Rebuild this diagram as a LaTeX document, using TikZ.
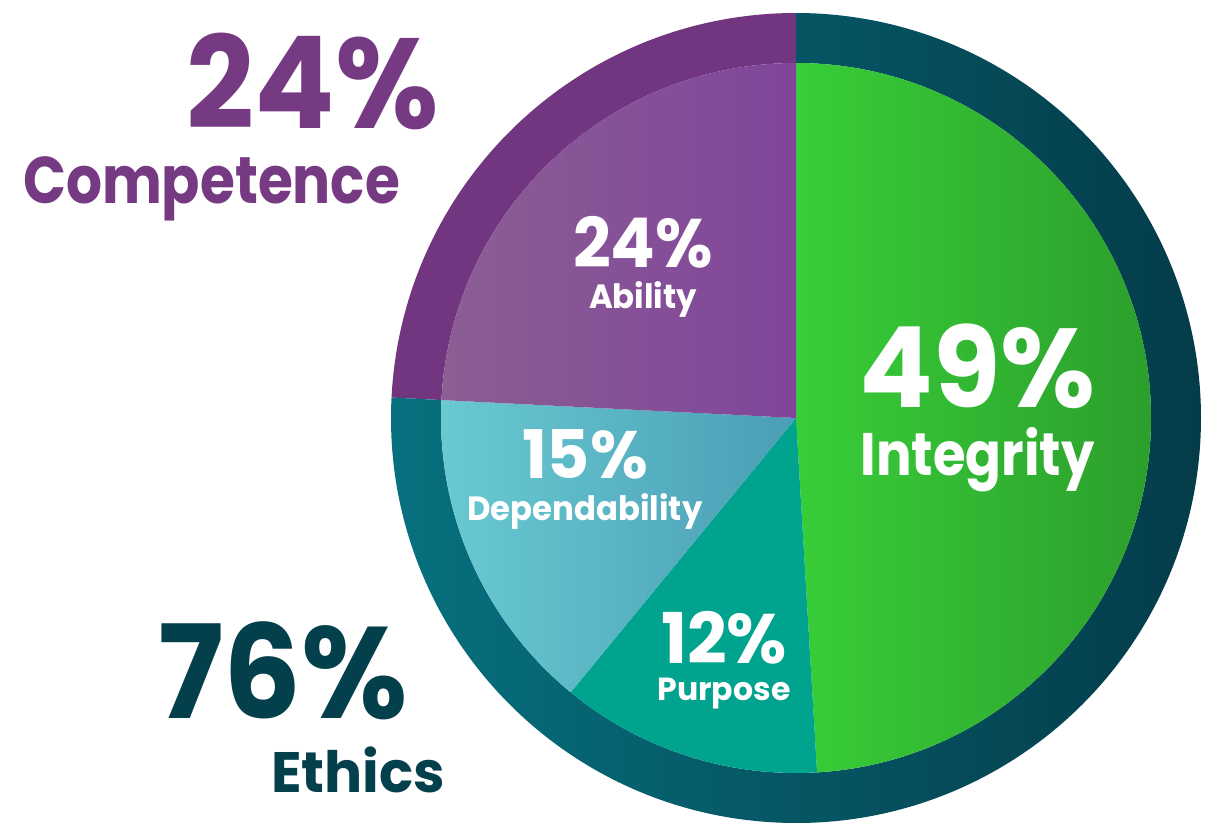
\documentclass[tikz,border=0pt]{standalone}
\usepackage{fontspec}
\setmainfont{Poppins}
\usepackage{graphicx}
\definecolor{ringpurple}{HTML}{723680}
\definecolor{ringtealL}{HTML}{07717F}
\definecolor{ringtealR}{HTML}{043B49}
\definecolor{intL}{HTML}{38CE38}
\definecolor{intR}{HTML}{2C9F2C}
\definecolor{abL}{HTML}{8B5E94}
\definecolor{abR}{HTML}{80459A}
\definecolor{depL}{HTML}{69CAD2}
\definecolor{depR}{HTML}{4A9EB5}
\definecolor{purp}{HTML}{00A38D}
\definecolor{txtpurple}{HTML}{763A82}
\definecolor{txtteal}{HTML}{043F4C}
\newcommand{\fitlbl}[3]{\resizebox{#1}{\height}{\fontsize{#2}{#2}\selectfont\bfseries #3}}
% two lines, centred, baseline distance #1 (node baseline = second line)
\newcommand{\stackc}[3]{\vbox{\baselineskip=#1\lineskiplimit=-\maxdimen\lineskip=0pt\halign{\hfil##\hfil\cr#2\cr#3\cr}}}
% two lines, right aligned
\newcommand{\stackr}[3]{\vbox{\baselineskip=#1\lineskiplimit=-\maxdimen\lineskip=0pt\halign{\hfil##\cr#2\cr#3\cr}}}
\tikzset{lbl/.style={inner sep=0pt, outer sep=0pt, anchor=base}}
\begin{document}
\begin{tikzpicture}
\useasboundingbox (0,0) rectangle (1218pt,-822pt);
\begin{scope}[shift={(796pt,-418pt)}]
  % outer ring: competence (purple)
  \fill[ringpurple] (90:405pt) arc[start angle=90,end angle=177.1,radius=405pt]
    -- (177.1:355pt) arc[start angle=177.1,end angle=90,radius=355pt] -- cycle;
  % outer ring: ethics (teal gradient)
  \shade[left color=ringtealL,right color=ringtealR] (177.1:405pt) arc[start angle=177.1,end angle=450,radius=405pt]
    -- (90:355pt) arc[start angle=450,end angle=177.1,radius=355pt] -- cycle;
  % inner pie
  \shade[left color=intL,right color=intR] (0,0) -- (90:355pt) arc[start angle=90,end angle=-86.6,radius=355pt] -- cycle;
  \fill[purp] (0,0) -- (-86.6:355pt) arc[start angle=-86.6,end angle=-129.4,radius=355pt] -- cycle;
  \shade[left color=depL,right color=depR] (0,0) -- (230.6:355pt) arc[start angle=230.6,end angle=177.1,radius=355pt] -- cycle;
  \shade[left color=abL,right color=abR] (0,0) -- (177.1:355pt) arc[start angle=177.1,end angle=90,radius=355pt] -- cycle;
\end{scope}
% outside labels
\node[lbl,anchor=base east,text=txtpurple] (comp) at (439pt,-203pt)
  {\stackr{75pt}{\fitlbl{252pt}{128pt}{24\%}}{\fitlbl{377pt}{66pt}{Competence}\kern39pt}};
\node[lbl,anchor=base east,text=txtteal] (eth) at (445pt,-792pt)
  {\stackr{74pt}{\fitlbl{250pt}{130pt}{76\%}\kern36.5pt}{\fitlbl{174pt}{57pt}{Ethics}}};
% inner labels
\node[lbl,text=white] (int) at (977.5pt,-475.7pt)
  {\stackc{68pt}{\fitlbl{236pt}{112pt}{49\%}}{\fitlbl{234pt}{60pt}{Integrity}}};
\node[lbl,text=white] (abl) at (643pt,-308.4pt)
  {\stackc{40.8pt}{\fitlbl{140pt}{68.6pt}{24\%}}{\fitlbl{108pt}{33.6pt}{Ability}}};
\node[lbl,text=white] (dep) at (585pt,-520pt)
  {\stackc{42pt}{\fitlbl{126pt}{67pt}{15\%}}{\fitlbl{235pt}{33.6pt}{Dependability}}};
\node[lbl,text=white] (pur) at (724pt,-700.5pt)
  {\stackc{37.5pt}{\fitlbl{126pt}{70pt}{12\%}}{\fitlbl{133pt}{32pt}{Purpose}}};
\end{tikzpicture}
\end{document}
